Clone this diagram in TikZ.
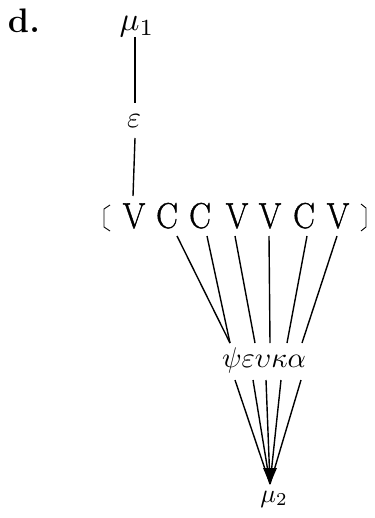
\documentclass[tikz,border=0pt]{standalone}
\usepackage{fontspec}
\newfontfamily\segfont{Latin Modern Roman}[FakeBold=1.2]
\begin{document}
\begin{tikzpicture}[x=1pt,y=-1pt,
  lbl/.style={inner sep=0pt,outer sep=0pt,anchor=base},
  segl/.style={lbl,font=\segfont\fontsize{36}{36}\selectfont},
  grk/.style={lbl,anchor=base west},
  lnk/.style={line width=1.4pt}]
\useasboundingbox (0,0) rectangle (374,518);
% heading
\node[lbl,anchor=base west,font=\fontsize{34}{34}\selectfont\bfseries] (d) at (8,33) {d.};
% top
\node[lbl] (mu1) at (137,31) {\scalebox{3.3}{$\mu_1$}};
\node[lbl] (eps) at (134,128) {\scalebox{3}{$\varepsilon$}};
% segmental row
\node[segl] (V1) at (134,228) {\scalebox{0.9}[1]{V}};
\node[segl] (C1) at (167,228) {\scalebox{0.9}[1]{C}};
\node[segl] (C2) at (200,228) {\scalebox{0.9}[1]{C}};
\node[segl] (V2) at (237,228) {\scalebox{0.9}[1]{V}};
\node[segl] (V3) at (270,228) {\scalebox{0.9}[1]{V}};
\node[segl] (C3) at (304,228) {\scalebox{0.9}[1]{C}};
\node[segl] (V4) at (338,228) {\scalebox{0.9}[1]{V}};
\draw[line width=0.9pt] (110,205) -- (104,209) -- (104,227) -- (110,231);
\draw[line width=0.9pt] (361,204) -- (366,208) -- (366,227) -- (361,231);
% greek row
\node[grk] (psi) at (222,367) {\scalebox{2.85}{$\psi$}};
\node[grk] (ep) at (psi.base east) {\scalebox{2.85}{$\varepsilon$}};
\node[grk] (ups) at (ep.base east) {\scalebox{2.85}{$\upsilon$}};
\node[grk] (kap) at (ups.base east) {\scalebox{2.85}{$\kappa$}};
\node[grk] (alp) at (kap.base east) {\scalebox{2.85}{$\alpha$}};
% bottom
\node[lbl] (mu2) at (274,502) {\scalebox{2.6}{$\mu_2$}};
% named ends
\coordinate (m1b) at (135,37);
\coordinate (e1t) at (135,103);
\coordinate (e1b) at (135,138);
\coordinate (v1t) at (133,196);
\coordinate (t1) at (177,236);
\coordinate (t2) at (207,236);
\coordinate (t3) at (235,236);
\coordinate (t4) at (269,236);
\coordinate (t5) at (307,236);
\coordinate (t6) at (337,236);
\coordinate (g1) at (230,343);
\coordinate (g2) at (255,343);
\coordinate (g3) at (270,343);
\coordinate (g4) at (287,343);
\coordinate (g5) at (302,343);
\coordinate (b1) at (235,380);
\coordinate (b2) at (253,380);
\coordinate (b3) at (266,380);
\coordinate (b4) at (281,380);
\coordinate (b5) at (301,380);
\coordinate (m2t) at (270,484);
% connectors
\draw[lnk] (m1b) -- (e1t);
\draw[lnk] (e1b) -- (v1t);
\draw[lnk] (t1) -- (g1);
\draw[lnk] (t2) -- (g1);
\draw[lnk] (t3) -- (g2);
\draw[lnk] (t4) -- (g3);
\draw[lnk] (t5) -- (g4);
\draw[lnk] (t6) -- (g5);
\foreach \b in {b1,b2,b3,b4,b5} \draw[lnk] (\b) -- (m2t);
\fill (263,468) -- (277,468) -- (m2t) -- cycle;
\end{tikzpicture}
\end{document}
